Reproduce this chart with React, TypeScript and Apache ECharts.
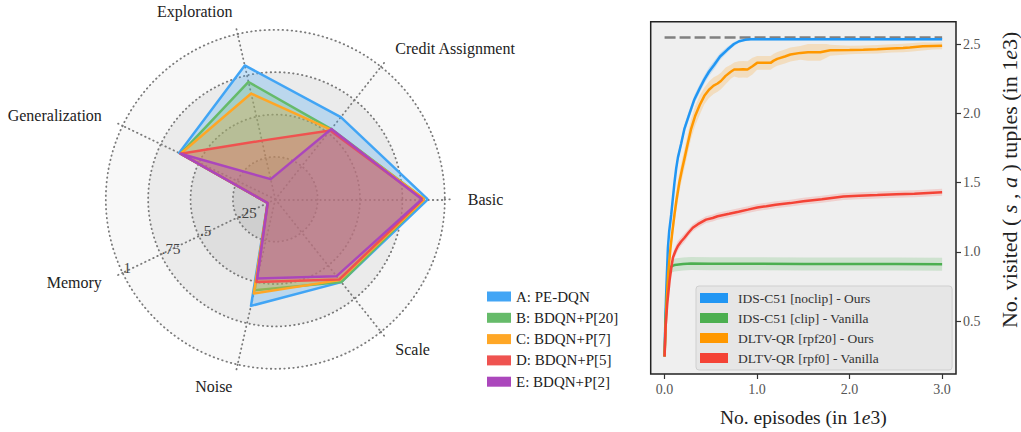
import React, { useEffect, useRef } from "react";
import * as echarts from "echarts";

// ---------- Radar data ----------
const radarAxes = ["Basic", "Credit Assignment", "Exploration", "Generalization", "Memory", "Noise", "Scale"];
const radarNames = ["A: PE-DQN", "B: BDQN+P[20]", "C: BDQN+P[7]", "D: BDQN+P[5]", "E: BDQN+P[2]"];
const radarA = [0.9, 0.62, 0.81, 0.63, 0.05, 0.645, 0.625];
const radarB = [0.88, 0.53, 0.71, 0.62, 0.05, 0.55, 0.625];
const radarC = [0.88, 0.525, 0.64, 0.62, 0.05, 0.57, 0.61];
const radarD = [0.87, 0.52, 0.355, 0.62, 0.05, 0.5, 0.605];
const radarE = [0.865, 0.53, 0.122, 0.62, 0.05, 0.48, 0.58];
const radarColors = ["#42A5F5", "#66BB6A", "#FFA726", "#EF5350", "#AB47BC"];
const rTicks = [0.25, 0.5, 0.75, 1];
const rTickLabels = [".25", ".5", ".75", "1"];

// ---------- Line chart data ----------
const lineNames = ["IDS-C51 [noclip] - Ours", "IDS-C51 [clip] - Vanilla", "DLTV-QR [rpf20] - Ours", "DLTV-QR [rpf0] - Vanilla"];
const lineColors = ["#2196F3", "#4CAF50", "#FF9800", "#F44336"];
const xTicks = [0, 1, 2, 3];
const yTicks = [0.5, 1.0, 1.5, 2.0, 2.5];
const maxLevel = 2.547;
const maxX = [0, 3];

const blueX = [0, 0.01, 0.02, 0.036, 0.05, 0.072, 0.09, 0.107, 0.125, 0.144, 0.179, 0.215, 0.27, 0.322, 0.38, 0.43, 0.48, 0.537, 0.6, 0.68, 0.75, 0.806, 0.87, 0.93, 1.2, 1.5, 2.0, 2.5, 3.0];
const blueY = [0.245, 0.55, 0.75, 1.03, 1.15, 1.27, 1.39, 1.5, 1.6, 1.68, 1.78, 1.89, 2.0, 2.1, 2.18, 2.245, 2.3, 2.35, 2.41, 2.46, 2.5, 2.52, 2.53, 2.535, 2.535, 2.535, 2.535, 2.535, 2.535];
const blueS = [0, 0.01, 0.02, 0.03, 0.03, 0.03, 0.03, 0.03, 0.03, 0.03, 0.03, 0.03, 0.03, 0.03, 0.03, 0.03, 0.03, 0.03, 0.025, 0.02, 0.015, 0.01, 0.01, 0.01, 0.01, 0.01, 0.01, 0.01, 0.01];

const greenX = [0, 0.01, 0.03, 0.05, 0.072, 0.107, 0.2, 0.287, 0.5, 1.0, 1.5, 2.0, 2.5, 3.0];
const greenY = [0.245, 0.5, 0.75, 0.86, 0.895, 0.905, 0.912, 0.916, 0.915, 0.914, 0.913, 0.912, 0.912, 0.911];
const greenS = [0, 0.02, 0.03, 0.04, 0.045, 0.047, 0.047, 0.047, 0.047, 0.047, 0.047, 0.047, 0.047, 0.047];

const orangeX = [0, 0.02, 0.04, 0.064, 0.085, 0.107, 0.13, 0.161, 0.19, 0.215, 0.25, 0.287, 0.33, 0.38, 0.43, 0.48, 0.53, 0.573, 0.609, 0.66, 0.716, 0.752, 0.8, 0.85, 0.896, 0.95, 1.0, 1.146, 1.18, 1.218, 1.3, 1.36, 1.468, 1.55, 1.683, 1.75, 1.79, 2.0, 2.148, 2.3, 2.45, 2.578, 2.65, 2.79, 2.9, 3.0];
const orangeY = [0.245, 0.6, 0.85, 1.03, 1.15, 1.27, 1.38, 1.507, 1.6, 1.673, 1.78, 1.888, 1.98, 2.06, 2.126, 2.17, 2.2, 2.215, 2.233, 2.27, 2.3, 2.316, 2.316, 2.318, 2.316, 2.34, 2.364, 2.364, 2.38, 2.393, 2.41, 2.424, 2.436, 2.44, 2.44, 2.45, 2.455, 2.457, 2.459, 2.462, 2.468, 2.471, 2.475, 2.483, 2.486, 2.488];
const orangeS = [0, 0.02, 0.04, 0.05, 0.06, 0.07, 0.07, 0.07, 0.07, 0.07, 0.07, 0.07, 0.07, 0.07, 0.06, 0.06, 0.06, 0.06, 0.06, 0.06, 0.05, 0.05, 0.06, 0.06, 0.06, 0.06, 0.05, 0.05, 0.05, 0.05, 0.05, 0.05, 0.05, 0.06, 0.06, 0.05, 0.04, 0.03, 0.03, 0.03, 0.03, 0.03, 0.03, 0.03, 0.025, 0.025];

const redX = [0, 0.01, 0.029, 0.054, 0.072, 0.09, 0.12, 0.144, 0.179, 0.215, 0.26, 0.305, 0.36, 0.448, 0.52, 0.573, 0.698, 0.8, 0.9, 1.003, 1.1, 1.2, 1.36, 1.5, 1.7, 1.933, 2.1, 2.3, 2.507, 2.7, 2.85, 3.0];
const redY = [0.245, 0.45, 0.626, 0.793, 0.88, 0.959, 1.01, 1.043, 1.075, 1.102, 1.14, 1.174, 1.2, 1.233, 1.245, 1.257, 1.275, 1.29, 1.305, 1.321, 1.33, 1.34, 1.352, 1.365, 1.38, 1.4, 1.405, 1.41, 1.416, 1.42, 1.425, 1.43];
const redS = [0, 0.01, 0.02, 0.03, 0.03, 0.035, 0.035, 0.035, 0.03, 0.03, 0.025, 0.025, 0.025, 0.025, 0.025, 0.025, 0.025, 0.025, 0.025, 0.025, 0.025, 0.025, 0.025, 0.025, 0.025, 0.025, 0.025, 0.025, 0.025, 0.025, 0.025, 0.025];

const SERIF = "Liberation Serif, serif";

function bandSeries(xs: number[], ys: number[], ss: number[], color: string, opacity: number) {
  const upper = xs.map((x, i) => [x, ys[i] + ss[i]]);
  const lower = xs.map((x, i) => [x, ys[i] - ss[i]]).reverse();
  return {
    type: "custom",
    coordinateSystem: "cartesian2d",
    xAxisIndex: 0,
    yAxisIndex: 0,
    silent: true,
    z: 1,
    data: [[xs[0], ys[0]]],
    encode: { x: 0, y: 1 },
    renderItem: (_p: any, api: any) => {
      const pts = upper.concat(lower).map((p) => api.coord(p));
      return { type: "polygon", shape: { points: pts }, style: { fill: color, opacity } };
    },
  };
}

function mainSeries(name: string, xs: number[], ys: number[], color: string) {
  return {
    type: "line", name, data: xs.map((x, i) => [x, ys[i]]), symbol: "none",
    itemStyle: { color }, lineStyle: { color, width: 2.5 }, xAxisIndex: 0, yAxisIndex: 0, z: 3,
  };
}

export default function App() {
  const ref = useRef<HTMLDivElement>(null);
  useEffect(() => {
    document.body.style.margin = "0";
    if (!ref.current) return;
    const chart = echarts.init(ref.current, undefined, { renderer: "svg" });

    const cx = 275.3, cy = 199.3, R = 169.5;
    const dotted = { stroke: "#7a7a7a", lineWidth: 1.8, lineDash: [0.5, 4], lineCap: "round" };
    const memAngle = (4 * 2 * Math.PI) / 7;
    const tickTexts = rTicks.map((t, i) => ({
      type: "text",
      x: cx + Math.cos(memAngle) * R * t + 1,
      y: cy - Math.sin(memAngle) * R * t - 5,
      z: 10,
      style: { text: rTickLabels[i], fill: "#444", font: `15px ${SERIF}`, textAlign: "left", textVerticalAlign: "middle" },
    }));
    const axisExt = radarAxes.map((_n, i) => {
      const a = (i * 2 * Math.PI) / radarAxes.length;
      return {
        type: "line",
        z: 5,
        silent: true,
        shape: {
          x1: cx + Math.cos(a) * R, y1: cy - Math.sin(a) * R,
          x2: cx + Math.cos(a) * (R + 8), y2: cy - Math.sin(a) * (R + 8),
        },
        style: dotted,
      };
    });

    const radarValues = [radarA, radarB, radarC, radarD, radarE];
    const italicX = { fontStyle: "italic", fontSize: 19.5, fontFamily: SERIF, color: "#222" };
    const italicY = { fontStyle: "italic", fontSize: 22, fontFamily: SERIF, color: "#222" };

    const option: any = {
      animation: false,
      textStyle: { fontFamily: SERIF },
      radar: {
        center: [cx, cy],
        radius: R,
        startAngle: 0,
        shape: "circle",
        splitNumber: 4,
        indicator: radarAxes.map((n) => ({ name: n, max: 1, min: 0 })),
        axisName: { color: "#222", fontSize: 16, fontFamily: SERIF },
        nameGap: 23,
        splitArea: { show: true, areaStyle: { color: ["#cfcfcf", "#dedede", "#ebebeb", "#f8f8f8"] } },
        splitLine: { lineStyle: { color: "#7a7a7a", type: [0.5, 4], width: 1.8, cap: "round" } },
        axisLine: { lineStyle: { color: "#7a7a7a", type: [0.5, 4], width: 1.8, cap: "round" } },
        axisTick: { show: false },
        axisLabel: { show: false },
      },
      grid: { left: 650.7, right: 65, top: 21.7, bottom: 55.3, show: true, backgroundColor: "#efefef", borderColor: "#222", borderWidth: 1.5 },
      xAxis: {
        type: "value", min: -0.15, max: 3.15,
        splitLine: { show: false },
        axisLine: { show: false, onZero: false },
        axisTick: { show: true, customValues: xTicks, length: 5, lineStyle: { color: "#333", width: 1.2 } },
        axisLabel: { customValues: xTicks, formatter: (v: number) => v.toFixed(1), color: "#555", fontSize: 14, fontFamily: SERIF, margin: 8 },
        name: "No. episodes (in 1{i|e}3)",
        nameLocation: "middle",
        nameGap: 33,
        nameTextStyle: { fontSize: 19.5, color: "#222", fontFamily: SERIF, rich: { i: italicX } },
      },
      yAxis: {
        type: "value", position: "right", min: 0.119, max: 2.661,
        splitLine: { show: false },
        axisLine: { show: false, onZero: false },
        axisTick: { show: true, customValues: yTicks, length: 5, lineStyle: { color: "#333", width: 1.2 } },
        axisLabel: { customValues: yTicks, formatter: (v: number) => v.toFixed(1), color: "#555", fontSize: 14, fontFamily: SERIF, margin: 7 },
        name: "No. visited ( {i|s} , {i|a} ) tuples (in 1{i|e}3)",
        nameLocation: "middle",
        nameRotate: 90,
        nameGap: 42,
        nameTextStyle: { fontSize: 22, color: "#222", fontFamily: SERIF, padding: [0, 0, 0, 36], rich: { i: italicY } },
      },
      legend: [
        {
          data: radarNames,
          orient: "vertical",
          left: 482, top: 284,
          icon: "rect", itemWidth: 24, itemHeight: 10, itemGap: 6.3,
          itemStyle: { borderWidth: 0 },
          textStyle: { fontSize: 15, color: "#222", fontFamily: SERIF },
          selectedMode: false,
        },
        {
          data: lineNames,
          orient: "vertical",
          left: 696, top: 286,
          icon: "rect", itemWidth: 28, itemHeight: 10, itemGap: 6,
          padding: [5, 73, 5, 4],
          backgroundColor: "rgba(228,228,228,0.85)", borderColor: "#cfcfcf", borderWidth: 1, borderRadius: 3,
          textStyle: { fontSize: 13.5, color: "#333", fontFamily: SERIF, padding: [0, 0, 0, 5] },
          selectedMode: false,
        },
      ],
      graphic: [...axisExt, ...tickTexts],
      series: [
        {
          type: "radar",
          symbol: "none",
          data: radarValues.map((v, i) => ({
            name: radarNames[i],
            value: v,
            itemStyle: { color: radarColors[i] },
            lineStyle: { color: radarColors[i], width: 2.5 },
            areaStyle: { color: radarColors[i], opacity: 0.28 },
          })),
        },
        bandSeries(blueX, blueY, blueS, lineColors[0], 0.2),
        bandSeries(greenX, greenY, greenS, lineColors[1], 0.2),
        bandSeries(orangeX, orangeY, orangeS, lineColors[2], 0.2),
        bandSeries(redX, redY, redS, lineColors[3], 0.18),
        {
          type: "line", name: "max", data: maxX.map((x) => [x, maxLevel]), symbol: "none", silent: true,
          lineStyle: { color: "#808080", width: 2.5, type: [11, 4] }, z: 2,
        },
        mainSeries(lineNames[0], blueX, blueY, lineColors[0]),
        mainSeries(lineNames[1], greenX, greenY, lineColors[1]),
        mainSeries(lineNames[2], orangeX, orangeY, lineColors[2]),
        mainSeries(lineNames[3], redX, redY, lineColors[3]),
      ],
    };
    chart.setOption(option);
    return () => chart.dispose();
  }, []);
  return <div ref={ref} style={{ width: 1021, height: 432 }} />;
}
